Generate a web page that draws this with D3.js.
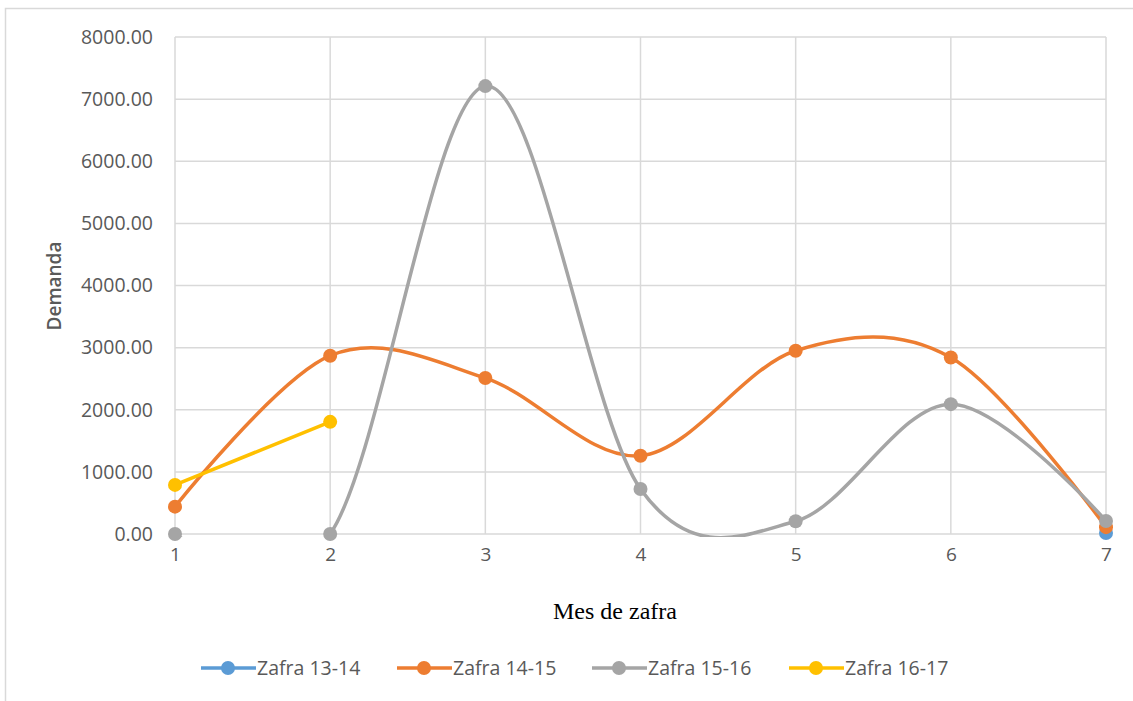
<!DOCTYPE html>
<html>
<head>
<meta charset="utf-8">
<script src="https://cdn.jsdelivr.net/npm/d3@7"></script>
<style>
  body { margin: 0; background: #fff; }
</style>
</head>
<body>
<div id="chart"></div>
<script>
var months = [1, 2, 3, 4, 5, 6, 7];
var yTicks = [0, 1000, 2000, 3000, 4000, 5000, 6000, 7000, 8000];
var seriesNames = ["Zafra 13-14", "Zafra 14-15", "Zafra 15-16", "Zafra 16-17"];
var seriesColors = ["#5b9bd5", "#ed7d31", "#a5a5a5", "#ffc000"];
// null = no value for that month
var zafra1314 = [null, null, null, null, null, null, 15];
var zafra1415 = [440, 2870, 2510, 1260, 2950, 2840, 110];
var zafra1516 = [0, 0, 7210, 725, 205, 2090, 210];
var zafra1617 = [790, 1805, null, null, null, null, null];

function init(){
    var W = 1133, H = 701;
    var left = 175, right = 1106, top = 37, bottom = 534;

    var svg = d3.select("#chart").append("svg")
        .attr("width", W)
        .attr("height", H);

    // outer frame
    svg.append("rect")
        .attr("x", 5.5).attr("y", 8.5)
        .attr("width", W + 20).attr("height", H + 20)
        .attr("fill", "none")
        .attr("stroke", "#d9d9d9")
        .attr("stroke-width", 1.5);

    var x = d3.scaleLinear().domain([1, 7]).range([left, right]);
    var y = d3.scaleLinear().domain([0, 8000]).range([bottom, top]);

    // grid
    svg.append("g").selectAll("line.h")
        .data(yTicks).enter().append("line")
        .attr("x1", left).attr("x2", right)
        .attr("y1", function(d){ return y(d); })
        .attr("y2", function(d){ return y(d); })
        .attr("stroke", "#d9d9d9").attr("stroke-width", 1.5);
    svg.append("g").selectAll("line.v")
        .data(months).enter().append("line")
        .attr("x1", function(d){ return x(d); })
        .attr("x2", function(d){ return x(d); })
        .attr("y1", top).attr("y2", bottom)
        .attr("stroke", "#d9d9d9").attr("stroke-width", 1.5);

    // axes (labels only)
    var yAxis = d3.axisLeft(y).tickValues(yTicks).tickSize(0).tickPadding(22)
        .tickFormat(d3.format(".2f"));
    var gy = svg.append("g").attr("transform", "translate(" + left + ",0)").call(yAxis);
    gy.select(".domain").remove();
    gy.selectAll("text")
        .attr("font-family", "'Open Sans', sans-serif")
        .attr("font-size", "19.5px")
        .attr("fill", "#595959");

    var xAxis = d3.axisBottom(x).tickValues(months).tickSize(0).tickPadding(14)
        .tickFormat(d3.format("d"));
    var gx = svg.append("g").attr("transform", "translate(0," + bottom + ")").call(xAxis);
    gx.select(".domain").remove();
    gx.selectAll("text")
        .attr("font-family", "'Open Sans', sans-serif")
        .attr("font-size", "19px")
        .attr("fill", "#595959");

    // titles
    svg.append("text")
        .attr("transform", "translate(61,286) rotate(-90)")
        .attr("text-anchor", "middle")
        .attr("font-family", "'Open Sans', sans-serif")
        .attr("font-size", "19px")
        .attr("font-weight", "600")
        .attr("fill", "#595959")
        .text("Demanda");

    svg.append("text")
        .attr("x", 615).attr("y", 619)
        .attr("text-anchor", "middle")
        .attr("font-family", "'Liberation Serif', 'Times New Roman', serif")
        .attr("font-size", "24px")
        .attr("fill", "#000")
        .text("Mes de zafra");

    // clip to plot area (a little slack below zero, like the original)
    svg.append("clipPath").attr("id", "plot")
        .append("rect")
        .attr("x", left - 20).attr("y", top)
        .attr("width", right - left + 40).attr("height", bottom - top + 3);

    var data = [zafra1314, zafra1415, zafra1516, zafra1617];
    var line = d3.line()
        .defined(function(d){ return d[1] !== null; })
        .x(function(d){ return x(d[0]); })
        .y(function(d){ return y(d[1]); })
        .curve(d3.curveCardinal.tension(0));

    var lines = svg.append("g").attr("clip-path", "url(#plot)");
    var dots = svg.append("g");

    data.forEach(function(vals, k){
        var pts = months.map(function(m, i){ return [m, vals[i]]; });
        lines.append("path")
            .attr("d", line(pts))
            .attr("fill", "none")
            .attr("stroke", seriesColors[k])
            .attr("stroke-width", 3.5)
            .attr("stroke-linecap", "round");
        dots.selectAll(null)
            .data(pts.filter(function(d){ return d[1] !== null; }))
            .enter().append("circle")
            .attr("cx", function(d){ return x(d[0]); })
            .attr("cy", function(d){ return y(d[1]); })
            .attr("r", 7)
            .attr("fill", seriesColors[k]);
    });

    // legend
    var legendX = [201, 397, 592, 789];
    var lg = svg.append("g");
    seriesNames.forEach(function(name, k){
        var g = lg.append("g").attr("transform", "translate(" + legendX[k] + ",668)");
        g.append("line")
            .attr("x1", 0).attr("x2", 55)
            .attr("stroke", seriesColors[k]).attr("stroke-width", 3.5);
        g.append("circle").attr("cx", 27).attr("r", 7).attr("fill", seriesColors[k]);
        g.append("text")
            .attr("x", 56).attr("y", 7)
            .attr("font-family", "'Open Sans', sans-serif")
            .attr("font-size", "19.5px")
            .attr("fill", "#595959")
            .text(name);
    });
}
window.onload = init;
</script>
</body>
</html>
